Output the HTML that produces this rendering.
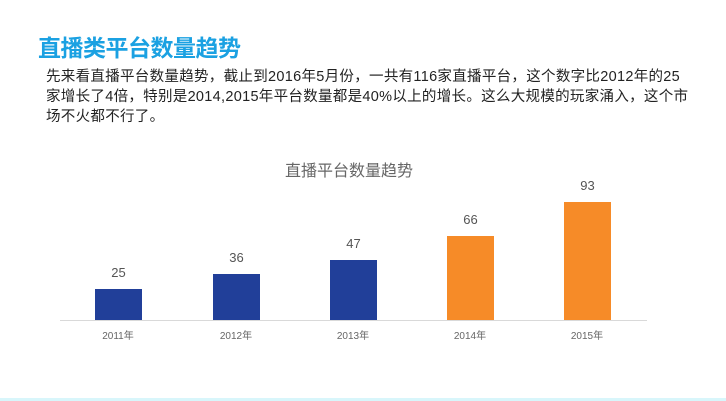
<!DOCTYPE html>
<html><head><meta charset="utf-8"><style>
body{margin:0;width:726px;height:401px;background:#fff;position:relative;overflow:hidden;font-family:"Liberation Sans","Noto Sans CJK SC",sans-serif}
.h{position:absolute;left:38px;top:29px;font-size:23px;font-weight:bold;color:#1ba1e2;letter-spacing:-0.5px}
.p{position:absolute;left:46px;top:67px;width:700px;font-size:14.5px;line-height:20px;color:#222;white-space:nowrap;letter-spacing:0.3px}
.t{position:absolute;left:0;width:698px;top:157px;text-align:center;font-size:16px;color:#666}
.b{position:absolute;width:47px}
.v{position:absolute;width:47px;text-align:center;font-size:13px;color:#555}
.x{position:absolute;width:80px;text-align:center;font-size:10px;color:#666;top:327px}
</style></head><body>
<div class="h">直播类平台数量趋势</div>
<div class="p">先来看直播平台数量趋势，截止到2016年5月份，一共有116家直播平台，这个数字比2012年的25<br>家增长了4倍，特别是2014,2015年平台数量都是40%以上的增长。这么大规模的玩家涌入，这个市<br>场不火都不行了。</div>
<div class="t">直播平台数量趋势</div>
<div style="position:absolute;left:60px;top:320px;width:587px;height:1px;background:#d9d9d9"></div>
<div class="b" style="left:95px;top:289px;height:31px;background:#213f99"></div>
<div class="b" style="left:213px;top:274px;height:46px;background:#213f99"></div>
<div class="b" style="left:330px;top:260px;height:60px;background:#213f99"></div>
<div class="b" style="left:447px;top:236px;height:84px;background:#f68b28"></div>
<div class="b" style="left:564px;top:202px;height:118px;background:#f68b28"></div>
<div class="v" style="left:95px;top:265px">25</div>
<div class="v" style="left:213px;top:250px">36</div>
<div class="v" style="left:330px;top:236px">47</div>
<div class="v" style="left:447px;top:212px">66</div>
<div class="v" style="left:564px;top:178px">93</div>
<div class="x" style="left:78px">2011年</div>
<div class="x" style="left:196px">2012年</div>
<div class="x" style="left:313px">2013年</div>
<div class="x" style="left:430px">2014年</div>
<div class="x" style="left:547px">2015年</div>
<div style="position:absolute;left:0;top:398px;width:726px;height:3px;background:#d8f6fb"></div>
</body></html>
